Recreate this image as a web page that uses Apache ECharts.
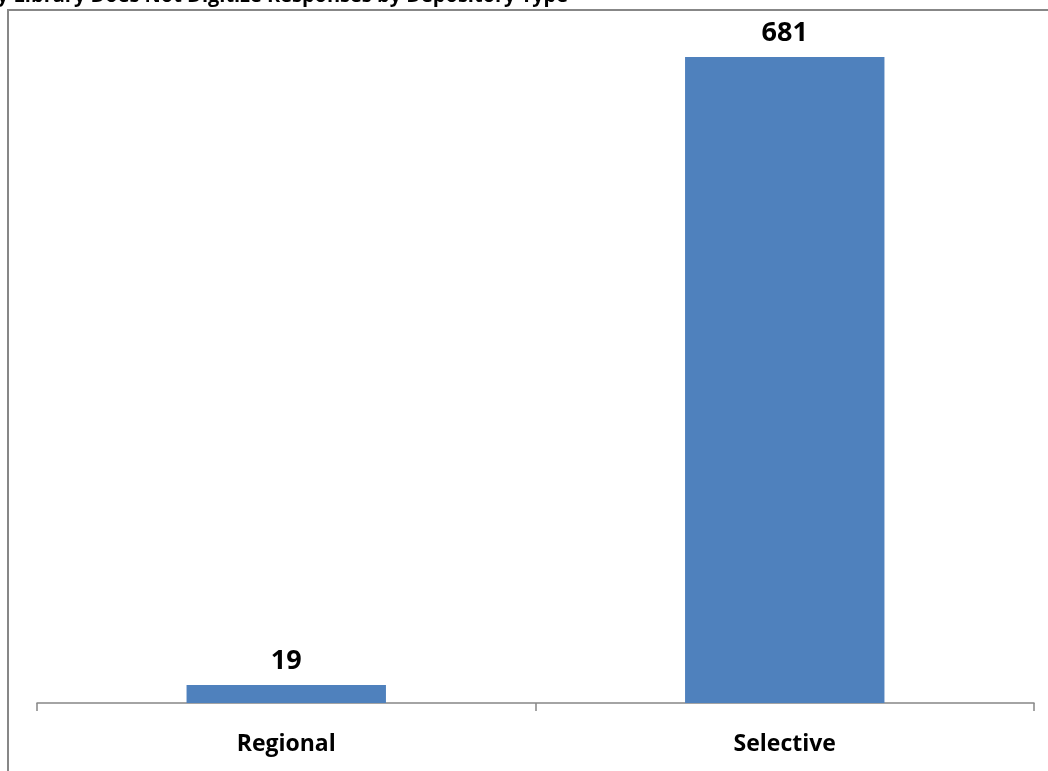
<!DOCTYPE html>
<html><head><meta charset="utf-8">
<script src="https://cdn.jsdelivr.net/npm/echarts@6/dist/echarts.min.js"></script>
<style>html,body{margin:0;padding:0;background:#fff}#c{width:1048px;height:771px}</style>
</head><body><div id="c"></div>
<script>
const titleText = 'y Library Does Not Digitize Responses by Depository Type';
const categories = ['Regional', 'Selective'];
const values = [19, 681];

const chart = echarts.init(document.getElementById('c'));
chart.setOption({
  animation: false,
  backgroundColor: '#fff',
  graphic: [
    { type: 'rect', shape: { x: 8, y: 10, width: 1100, height: 800 }, style: { fill: 'none', stroke: '#878787', lineWidth: 2 }, z: -1 },
    { type: 'text', left: -3, top: -14, style: { text: titleText, font: 'bold 20px "Open Sans"', fill: '#000' } }
  ],
  grid: { left: 37, right: 14, top: 39, bottom: 68 },
  xAxis: {
    type: 'category', data: categories,
    axisLine: { lineStyle: { color: '#878787', width: 1.5 } },
    axisTick: { show: true, length: 8, lineStyle: { color: '#878787', width: 1.5 } },
    axisLabel: { margin: 30, color: '#000', fontFamily: 'Open Sans', fontWeight: 'bold', fontSize: 23 }
  },
  yAxis: { type: 'value', min: 0, max: 700, show: false, splitLine: { show: false } },
  series: [{
    type: 'bar', data: values, barWidth: '40%',
    itemStyle: { color: '#4F81BD' },
    label: { show: true, position: 'top', distance: 10, color: '#000', fontFamily: 'Open Sans', fontWeight: 'bold', fontSize: 27 }
  }]
});
</script></body></html>
